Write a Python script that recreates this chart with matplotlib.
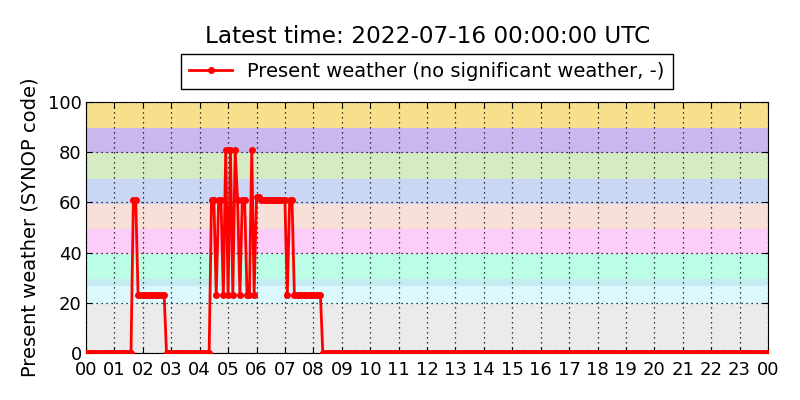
import numpy as np
import matplotlib
matplotlib.use("Agg")
import matplotlib.pyplot as plt

# present weather code, one value every 5 minutes, one row per hour
ww_by_hour = [
    [0, 0, 0, 0, 0, 0, 0, 0, 0, 0, 0, 0],            # 00
    [0, 0, 0, 0, 0, 0, 0, 0, 61, 61, 23, 23],        # 01
    [23, 23, 23, 23, 23, 23, 23, 23, 23, 23, 0, 0],  # 02
    [0, 0, 0, 0, 0, 0, 0, 0, 0, 0, 0, 0],            # 03
    [0, 0, 0, 0, 0, 61, 61, 23, 61, 61, 23, 81],     # 04
    [23, 81, 23, 81, 61, 23, 61, 61, 23, 23, 81, 23],  # 05
    [62, 62, 61, 61, 61, 61, 61, 61, 61, 61, 61, 61],  # 06
    [61, 23, 61, 61, 23, 23, 23, 23, 23, 23, 23, 23],  # 07
    [23, 23, 23, 23, 0, 0, 0, 0, 0, 0, 0, 0],        # 08
] + [[0] * 12 for h in range(9, 24)] + [[0]]          # 09 .. 24:00

ww = [v for row in ww_by_hour for v in row]
hours = np.arange(len(ww)) * 5 / 60.0

# SYNOP ww bands (lower, upper, colour)
band_lo = [-0.5, 19.5, 26.5, 29.5, 39.5, 49.5, 59.5, 69.5, 79.5, 89.5]
band_hi = [19.5, 26.5, 29.5, 39.5, 49.5, 59.5, 69.5, 79.5, 89.5, 100.5]
band_col = ["#ebebeb", "#dbf9fd", "#c4ecf1", "#bcfde6", "#fccdf8",
            "#f8e0d8", "#c9d6f4", "#d4ebc4", "#c8b8ee", "#f7df8b"]

xtick_labels = ["%02d" % (h % 24) for h in range(25)]

plt.rcParams["font.family"] = "DejaVu Sans"
fig = plt.figure(figsize=(8, 4), dpi=100)
ax = fig.add_axes([0.1075, 0.1175, 0.8525, 0.6275])

for lo, hi, c in zip(band_lo, band_hi, band_col):
    ax.axhspan(lo, hi, color=c, lw=0, zorder=0)

ax.plot(hours, ww, color="red", lw=2, marker=".", ms=8, mec="red",
        label="Present weather (no significant weather, -)", zorder=3)

ax.set_xlim(0, 24)
ax.set_ylim(0, 100)
ax.set_xticks(range(25))
ax.set_xticklabels(xtick_labels, fontsize=13)
ax.set_yticks(range(0, 101, 20))
ax.tick_params(axis="y", labelsize=13, pad=3)
ax.tick_params(axis="x", pad=6)
ax.tick_params(direction="in", top=True, right=True, length=4)
ax.grid(True, color="black", linestyle=(0, (1, 3)), lw=0.9)
ax.set_axisbelow(False)
ax.set_ylabel("Present weather (SYNOP code)", fontsize=14, labelpad=6)

ax.legend(loc="lower center", bbox_to_anchor=(0.5, 1.052), fontsize=14,
          fancybox=False, framealpha=1, edgecolor="black", borderaxespad=0,
          handlelength=2.2)
fig.suptitle("Latest time: 2022-07-16 00:00:00 UTC", fontsize=16.7,
             x=0.534, y=0.937)

fig.savefig("out.png", dpi=100)
